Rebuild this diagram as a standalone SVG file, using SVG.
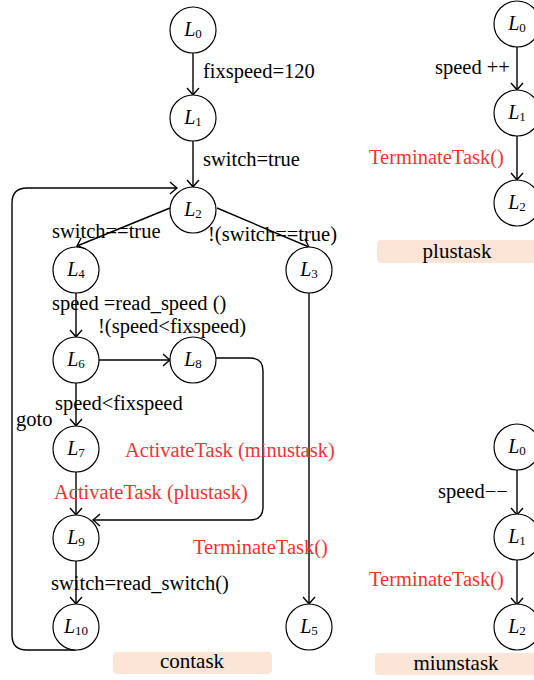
<svg xmlns="http://www.w3.org/2000/svg" width="534" height="680" viewBox="0 0 534 680">
<defs>
<marker id="arr" markerUnits="userSpaceOnUse" markerWidth="16" markerHeight="16" viewBox="-10 -8 12 16" refX="0" refY="0" orient="auto">
<path d="M-7,-6 Q-2,-1.5 0,0 Q-2,1.5 -7,6" fill="none" stroke="#000" stroke-width="1.4"/>
</marker>
<style>
.n circle{fill:#fff;stroke:#000;stroke-width:1.2}
.n text{font-family:"Liberation Serif","Times New Roman",serif;font-size:20px;text-anchor:middle;fill:#000}
.n .L{font-style:italic}
.n .s{font-size:13px}
.c path{fill:none;stroke:#000;stroke-width:1.4}
.c .a{marker-end:url(#arr)}
.lb{font-family:"Liberation Serif","Times New Roman",serif;font-size:20.5px;fill:#000}
.red{fill:#ee3535}
.box rect{fill:#fbe5d6}
.box text{font-family:"Liberation Serif","Times New Roman",serif;font-size:21px;text-anchor:middle;fill:#000}
</style>
</defs>
<rect width="534" height="680" fill="#fff"/>

<g id="connectors" class="c">
<path class="a" d="M193,53 L193,95"/>
<path class="a" d="M193,141 L193,187"/>
<path class="a" d="M170,208 L77,246"/>
<path class="a" d="M217,208 L309,247"/>
<path class="a" d="M309,293 L309,604"/>
<path class="a" d="M76,292 L76,337"/>
<path class="a" d="M99,360 L170,360"/>
<path class="a" d="M216,358 L250,358 Q263,358 263,371 L263,507 Q263,520 250,520 L93,520"/>
<path class="a" d="M76,383 L76,426"/>
<path class="a" d="M76,472 L76,515"/>
<path class="a" d="M76,561 L76,604"/>
<path class="a" d="M76,650 L27,650 Q12,650 12,635 L12,203 Q12,188 27,188 L177,188"/>
<path class="a" d="M517,47 L517,90"/>
<path class="a" d="M517,136 L517,180"/>
<path class="a" d="M517,470 L517,515"/>
<path class="a" d="M517,560 L517,605"/>
</g>

<g id="c_L0" class="n"><circle cx="193" cy="30" r="23"/><text x="193" y="36"><tspan class="L">L</tspan><tspan class="s" dy="2">0</tspan></text></g>
<g id="c_L1" class="n"><circle cx="193" cy="118" r="23"/><text x="193" y="124"><tspan class="L">L</tspan><tspan class="s" dy="2">1</tspan></text></g>
<g id="c_L2" class="n"><circle cx="193" cy="210" r="23"/><text x="193" y="216"><tspan class="L">L</tspan><tspan class="s" dy="2">2</tspan></text></g>
<g id="c_L4" class="n"><circle cx="76" cy="270" r="23"/><text x="76" y="276"><tspan class="L">L</tspan><tspan class="s" dy="2">4</tspan></text></g>
<g id="c_L3" class="n"><circle cx="309" cy="270" r="23"/><text x="309" y="276"><tspan class="L">L</tspan><tspan class="s" dy="2">3</tspan></text></g>
<g id="c_L6" class="n"><circle cx="76" cy="360" r="23"/><text x="76" y="366"><tspan class="L">L</tspan><tspan class="s" dy="2">6</tspan></text></g>
<g id="c_L8" class="n"><circle cx="193" cy="360" r="23"/><text x="193" y="366"><tspan class="L">L</tspan><tspan class="s" dy="2">8</tspan></text></g>
<g id="c_L7" class="n"><circle cx="76" cy="449" r="23"/><text x="76" y="455"><tspan class="L">L</tspan><tspan class="s" dy="2">7</tspan></text></g>
<g id="c_L9" class="n"><circle cx="76" cy="538" r="23"/><text x="76" y="544"><tspan class="L">L</tspan><tspan class="s" dy="2">9</tspan></text></g>
<g id="c_L10" class="n"><circle cx="76" cy="627" r="23"/><text x="76" y="633"><tspan class="L">L</tspan><tspan class="s" dy="2">10</tspan></text></g>
<g id="c_L5" class="n"><circle cx="309" cy="627" r="23"/><text x="309" y="633"><tspan class="L">L</tspan><tspan class="s" dy="2">5</tspan></text></g>

<g id="p_L0" class="n"><circle cx="517" cy="24" r="23"/><text x="517" y="30"><tspan class="L">L</tspan><tspan class="s" dy="2">0</tspan></text></g>
<g id="p_L1" class="n"><circle cx="517" cy="113" r="23"/><text x="517" y="119"><tspan class="L">L</tspan><tspan class="s" dy="2">1</tspan></text></g>
<g id="p_L2" class="n"><circle cx="517" cy="203" r="23"/><text x="517" y="209"><tspan class="L">L</tspan><tspan class="s" dy="2">2</tspan></text></g>

<g id="m_L0" class="n"><circle cx="517" cy="447" r="23"/><text x="517" y="453"><tspan class="L">L</tspan><tspan class="s" dy="2">0</tspan></text></g>
<g id="m_L1" class="n"><circle cx="517" cy="537" r="23"/><text x="517" y="543"><tspan class="L">L</tspan><tspan class="s" dy="2">1</tspan></text></g>
<g id="m_L2" class="n"><circle cx="517" cy="627" r="23"/><text x="517" y="633"><tspan class="L">L</tspan><tspan class="s" dy="2">2</tspan></text></g>

<g id="labels">
<text class="lb" x="203" y="78">fixspeed=120</text>
<text class="lb" x="203" y="166">switch=true</text>
<text class="lb" x="52" y="238">switch==true</text>
<text class="lb" x="208" y="241">!(switch==true)</text>
<text class="lb" x="52" y="310">speed =read_speed ()</text>
<text class="lb" x="98" y="333">!(speed&lt;fixspeed)</text>
<text class="lb" x="55" y="410">speed&lt;fixspeed</text>
<text class="lb" x="16" y="426">goto</text>
<text class="lb red" x="125" y="457">ActivateTask (minustask)</text>
<text class="lb red" x="54" y="499">ActivateTask (plustask)</text>
<text class="lb red" x="193" y="554">TerminateTask()</text>
<text class="lb" x="51" y="590">switch=read_switch()</text>
<text class="lb" x="435" y="74">speed ++</text>
<text class="lb red" x="369" y="164">TerminateTask()</text>
<text class="lb" x="438" y="498">speed−−</text>
<text class="lb red" x="369" y="586">TerminateTask()</text>
</g>

<g id="box_contask" class="box"><rect x="113" y="652" width="159" height="22" rx="4"/><text x="192" y="668">contask</text></g>
<g id="box_plustask" class="box"><rect x="377" y="240" width="170" height="23" rx="4"/><text x="457" y="258">plustask</text></g>
<g id="box_miunstask" class="box"><rect x="375" y="653" width="170" height="22" rx="4"/><text x="456" y="670">miunstask</text></g>
</svg>
